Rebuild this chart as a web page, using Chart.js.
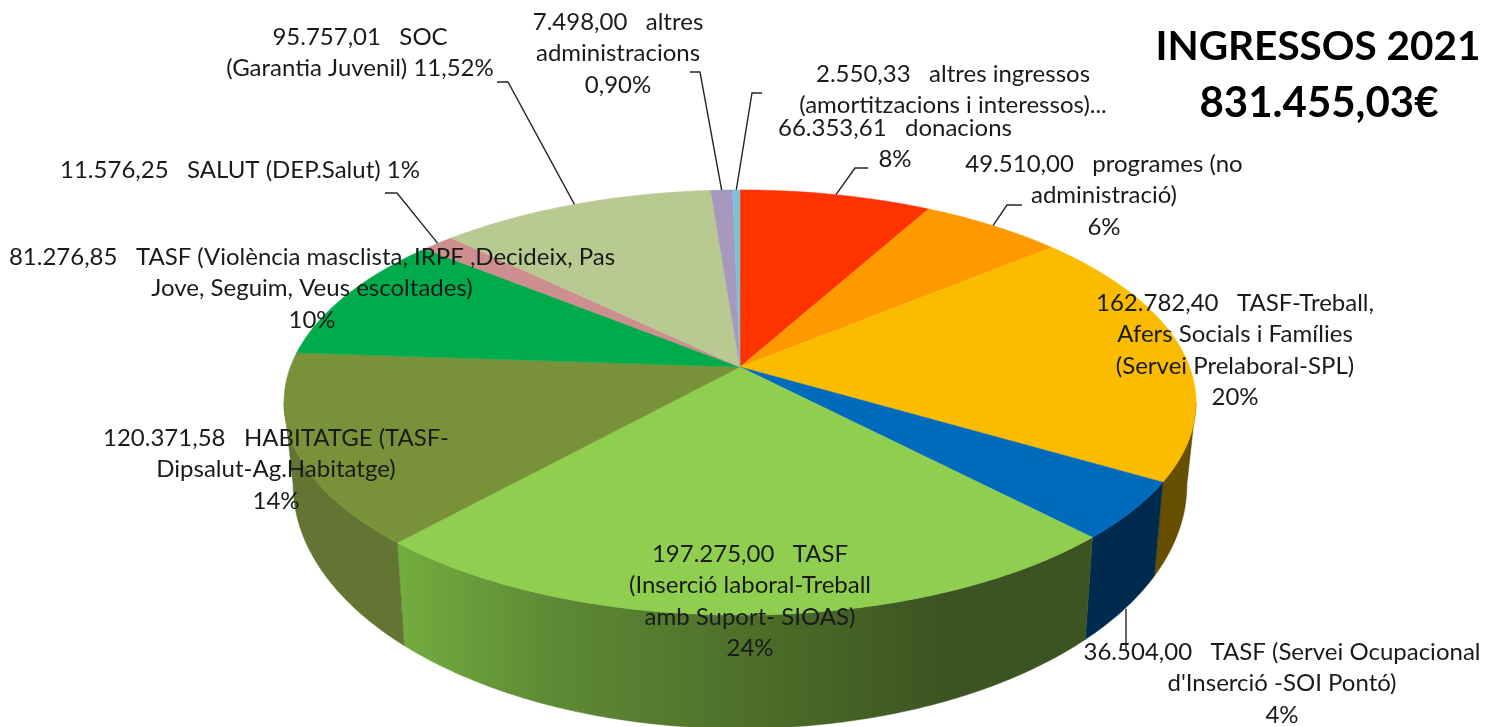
<!DOCTYPE html>
<html>
<head>
<meta charset="utf-8">
<title>Ingressos 2021</title>
<script src="https://cdn.jsdelivr.net/npm/chart.js@4"></script>
<style>
  html, body { margin: 0; padding: 0; background: #fff; }
  canvas { display: block; }
</style>
</head>
<body>
<canvas id="pie" width="1499" height="727"></canvas>
<script>
const categories = ['donacions', 'programes (no administració)', 'TASF-Treball, Afers Socials i Famílies (Servei Prelaboral-SPL)',
  "TASF (Servei Ocupacional d'Inserció -SOI Pontó)", 'TASF (Inserció laboral-Treball amb Suport- SIOAS)',
  'HABITATGE (TASF-Dipsalut-Ag.Habitatge)', 'TASF (Violència masclista, IRPF ,Decideix, Pas Jove, Seguim, Veus escoltades)',
  'SALUT (DEP.Salut)', 'SOC (Garantia Juvenil)', 'altres administracions', 'altres ingressos (amortitzacions i interessos)'];
const values = [66353.61, 49510.00, 162782.40, 36504.00, 197275.00, 120371.58, 81276.85, 11576.25, 95757.01, 7498.00, 2550.33];

const labelLines = [
  ['66.353,61   donacions', '8%'],
  ['49.510,00   programes (no', 'administració)', '6%'],
  ['162.782,40   TASF-Treball,', 'Afers Socials i Famílies', '(Servei Prelaboral-SPL)', '20%'],
  ['36.504,00   TASF (Servei Ocupacional', "d'Inserció -SOI Pontó)", '4%'],
  ['197.275,00   TASF', '(Inserció laboral-Treball', 'amb Suport- SIOAS)', '24%'],
  ['120.371,58   HABITATGE (TASF-', 'Dipsalut-Ag.Habitatge)', '14%'],
  ['81.276,85   TASF (Violència masclista, IRPF ,Decideix, Pas', 'Jove, Seguim, Veus escoltades)', '10%'],
  ['11.576,25   SALUT (DEP.Salut) 1%'],
  ['95.757,01   SOC', '(Garantia Juvenil) 11,52%'],
  ['7.498,00   altres', 'administracions', '0,90%'],
  ['2.550,33   altres ingressos', '(amortitzacions i interessos)...']
];
const titleLines = ['INGRESSOS 2021', '831.455,03€'];

const topColors = ['#ff3300', '#ff9900', '#fbbc00', '#006bbd', '#8fce4f', '#79923a', '#00ab4c', '#cc8e8e', '#b9c992', '#a699bd', '#7ec1d6'];
// only the slices at the front show a wall, the green one gets a gradient
const wallColors = { 2: '#665000', 3: '#002b4e', 5: '#647432' };

// label placement: centre x, y of first line
const labelPos = [[895, 128], [1104, 164], [1235, 303], [1282, 652], [750, 554], [276, 438], [312, 257], [240, 170], [360, 37], [618, 22], [953, 74]];
// leader lines: start of the line and its elbow, the end comes from the slice
const leaders = [
  { i: 0, pts: [[868, 168], [855, 168]] },
  { i: 1, pts: [[1022, 205], [1007, 205]] },
  { i: 3, pts: [[1126, 650]], bottom: true },
  { i: 7, pts: [[385, 193], [397, 193]] },
  { i: 8, pts: [[497, 82], [508, 82]] },
  { i: 9, pts: [[690, 72], [700, 72]] },
  { i: 10, pts: [[762, 93], [752, 93]] }
];

const FONT = 'Lato, "Noto Sans", sans-serif';
// perspective of the disc, relative to the radius chart.js gives the pie
const RX = 1.2489, RY = 0.574, PERSP = 0.167;
// lower rim: sits a bit narrower in x, stretched in y
const DEPTH = 77, BOTTOM_SX = 0.98, BOTTOM_SY = 1.147;
// the wall faces the viewer between these two angles
const WALL_FROM = Math.asin(PERSP), WALL_TO = Math.PI - WALL_FROM;

function project(arc, angle, bottom) {
  const u = Math.cos(angle), v = Math.sin(angle);
  const w = 1 - PERSP * v;
  return {
    x: arc.x + (bottom ? BOTTOM_SX : 1) * RX * arc.outerRadius * u / w,
    y: arc.y + (bottom ? DEPTH : 0) + (bottom ? BOTTOM_SY : 1) * RY * arc.outerRadius * v / w
  };
}

function samples(arc, from, to, bottom) {
  const out = [];
  const n = Math.max(2, Math.ceil((to - from) / 0.01));
  for (let k = 0; k <= n; k++) {
    out.push(project(arc, from + (to - from) * k / n, bottom));
  }
  return out;
}

const pie3d = {
  id: 'pie3d',
  beforeDatasetDraw(chart, args) {
    const ctx = chart.ctx;
    const arcs = args.meta.data.map(a => a.getProps(['x', 'y', 'startAngle', 'endAngle', 'outerRadius'], true));
    // walls first, then the top face
    arcs.forEach((arc, i) => {
      const from = Math.max(arc.startAngle, WALL_FROM), to = Math.min(arc.endAngle, WALL_TO);
      if (to <= from) return;
      const top = samples(arc, from, to, false), bot = samples(arc, from, to, true).reverse();
      ctx.beginPath();
      top.concat(bot).forEach((p, k) => k ? ctx.lineTo(p.x, p.y) : ctx.moveTo(p.x, p.y));
      ctx.closePath();
      if (wallColors[i]) {
        ctx.fillStyle = ctx.strokeStyle = wallColors[i];
      } else {
        const ends = [top[0].x, top[top.length - 1].x];
        const grad = ctx.createLinearGradient(Math.min(...ends), 0, Math.max(...ends), 0);
        grad.addColorStop(0, '#73ad3f');
        grad.addColorStop(0.22, '#5e8a35');
        grad.addColorStop(0.51, '#4d6f29');
        grad.addColorStop(0.8, '#3c5322');
        grad.addColorStop(1, '#3c5322');
        ctx.fillStyle = ctx.strokeStyle = grad;
      }
      ctx.lineWidth = 0.5;
      ctx.fill();
      ctx.stroke();
    });
    arcs.forEach((arc, i) => {
      ctx.beginPath();
      ctx.moveTo(arc.x, arc.y);
      samples(arc, arc.startAngle, arc.endAngle, false).forEach(p => ctx.lineTo(p.x, p.y));
      ctx.closePath();
      ctx.fillStyle = ctx.strokeStyle = topColors[i];
      ctx.lineWidth = 0.5;
      ctx.fill();
      ctx.stroke();
    });
    return false;
  },
  afterDatasetsDraw(chart) {
    const ctx = chart.ctx;
    const arcs = chart.getDatasetMeta(0).data;
    ctx.save();
    ctx.strokeStyle = '#262626';
    ctx.lineWidth = 1.4;
    leaders.forEach(l => {
      const a = arcs[l.i];
      const end = project(a, (a.startAngle + a.endAngle) / 2, !!l.bottom);
      ctx.beginPath();
      l.pts.forEach((p, k) => k ? ctx.lineTo(p[0], p[1]) : ctx.moveTo(p[0], p[1]));
      ctx.lineTo(l.bottom ? l.pts[0][0] : end.x, end.y);
      ctx.stroke();
    });
    ctx.fillStyle = '#1a1a1a';
    ctx.font = '24px ' + FONT;
    ctx.textAlign = 'center';
    ctx.textBaseline = 'middle';
    labelLines.forEach((lines, i) => {
      lines.forEach((t, k) => ctx.fillText(t, labelPos[i][0], labelPos[i][1] + k * 31.5));
    });
    ctx.fillStyle = '#000';
    ctx.font = 'bold 40.5px ' + FONT;
    ctx.fillText(titleLines[0], 1318, 47);
    ctx.font = 'bold 42px ' + FONT;
    ctx.fillText(titleLines[1], 1319, 103);
    ctx.restore();
  }
};

new Chart(document.getElementById('pie'), {
  type: 'pie',
  data: { labels: categories, datasets: [{ data: values, backgroundColor: topColors, borderWidth: 0 }] },
  options: {
    responsive: false,
    animation: false,
    layout: { padding: { right: 19, top: 7 } },
    plugins: { legend: { display: false } }
  },
  plugins: [pie3d]
});
</script>
</body>
</html>
